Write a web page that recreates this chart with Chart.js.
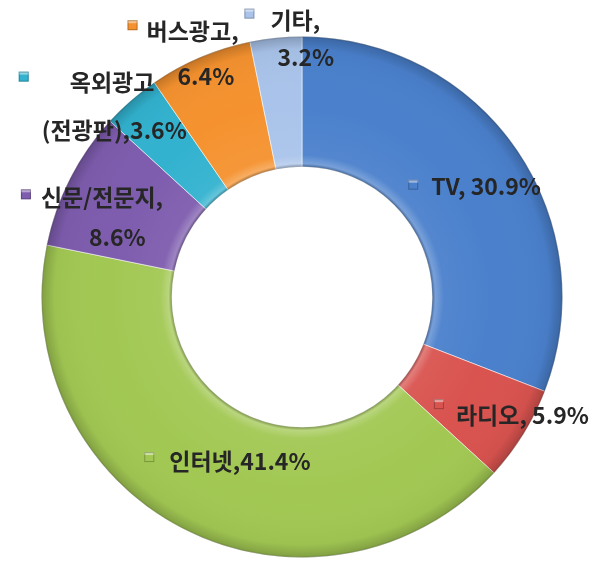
<!DOCTYPE html>
<html>
<head>
<meta charset="utf-8">
<script src="https://cdn.jsdelivr.net/npm/chart.js@4/dist/chart.umd.min.js"></script>
<style>
  html, body { margin: 0; padding: 0; background: #fff; }
  #wrap { width: 608px; height: 562px; }
</style>
</head>
<body>
<div id="wrap"><canvas id="myChart" width="608" height="562"></canvas></div>
<script>
// 매체별 비율 (%)
const categories = ['TV', '라디오', '인터넷', '신문/전문지', '옥외광고 (전광판)', '버스광고', '기타'];
const shares = [30.9, 5.9, 41.4, 8.6, 3.6, 6.4, 3.2];
const sliceColors = ['#4a80cc', '#d9534f', '#a2c853', '#7e5cae', '#32b2cf', '#f5922f', '#a9c3ea'];

// 라벨 배치 (조각 중심 기준 오프셋)
const labelLayout = [
  { sq: [-50, -2], lines: [['TV, 30.9%', -32, 0]] },
  { sq: [-29, 4], lines: [['라디오, 5.9%', -12, 15]] },
  { sq: [-64, -14], lines: [['인터넷,41.4%', -44, -10]] },
  { sq: [-102, -14], lines: [['신문/전문지,', -87, -11], ['8.6%', -39, 29]] },
  { sq: [-150, -73], lines: [['옥외광고', -104, -67], ['(전광판),3.6%', -132, -19]] },
  { sq: [-93, -92], lines: [['버스광고,', -79, -86], ['6.4%', -48, -41]] },
  { sq: [-33, -89], lines: [['기타,', -12, -82], ['3.2%', -5, -45]] }
];

const bevelPlugin = {
  id: 'bevel',
  afterDatasetsDraw(chart) {
    const meta = chart.getDatasetMeta(0);
    const arc = meta.data[0];
    if (!arc) return;
    const {x, y, innerRadius, outerRadius} = arc.getProps(['x', 'y', 'innerRadius', 'outerRadius'], true);
    const ctx = chart.ctx;
    ctx.save();
    const g = ctx.createRadialGradient(x, y, innerRadius, x, y, outerRadius);
    g.addColorStop(0, 'rgba(40,40,40,0.35)');
    g.addColorStop(0.025, 'rgba(255,255,255,0.25)');
    g.addColorStop(0.09, 'rgba(255,255,255,0.05)');
    g.addColorStop(0.5, 'rgba(255,255,255,0)');
    g.addColorStop(0.9, 'rgba(0,0,0,0.03)');
    g.addColorStop(0.985, 'rgba(0,0,0,0.18)');
    g.addColorStop(1, 'rgba(0,0,0,0.35)');
    ctx.beginPath();
    ctx.arc(x, y, outerRadius, 0, Math.PI * 2);
    ctx.arc(x, y, innerRadius, 0, Math.PI * 2, true);
    ctx.fillStyle = g;
    ctx.fill('evenodd');
    ctx.restore();
  }
};

const labelPlugin = {
  id: 'sliceLabels',
  afterDraw(chart) {
    const ctx = chart.ctx;
    const meta = chart.getDatasetMeta(0);
    ctx.save();
    ctx.font = 'bold 23px "Noto Sans CJK KR", "Noto Sans", sans-serif';
    ctx.textBaseline = 'middle';
    ctx.textAlign = 'left';
    meta.data.forEach((arc, i) => {
      const p = arc.getProps(['x', 'y', 'startAngle', 'endAngle', 'innerRadius', 'outerRadius'], true);
      const mid = (p.startAngle + p.endAngle) / 2;
      const r = (p.innerRadius + p.outerRadius) / 2;
      const ax = p.x + Math.cos(mid) * r;
      const ay = p.y + Math.sin(mid) * r;
      const lay = labelLayout[i];
      // 범례 표식
      const sx = ax + lay.sq[0] - 5, sy = ay + lay.sq[1] - 5;
      ctx.fillStyle = sliceColors[i];
      ctx.fillRect(sx, sy, 10, 10);
      ctx.fillStyle = 'rgba(255,255,255,0.45)';
      ctx.fillRect(sx, sy, 10, 3);
      ctx.strokeStyle = 'rgba(0,0,0,0.25)';
      ctx.lineWidth = 1;
      ctx.strokeRect(sx + 0.5, sy + 0.5, 9, 9);
      ctx.fillStyle = '#262626';
      lay.lines.forEach(([t, dx, dy]) => {
        ctx.fillText(t, ax + dx, ay + dy);
      });
    });
    ctx.restore();
  }
};

const ctx = document.getElementById('myChart').getContext('2d');
new Chart(ctx, {
  type: 'doughnut',
  data: {
    labels: categories,
    datasets: [{
      data: shares,
      backgroundColor: sliceColors,
      borderColor: 'rgba(255,255,255,0.55)',
      borderWidth: 1
    }]
  },
  options: {
    responsive: false,
    animation: false,
    cutout: '50%',
    layout: { padding: { left: 40, right: 44, top: 36, bottom: 4 } },
    plugins: {
      legend: { display: false },
      tooltip: { enabled: false }
    }
  },
  plugins: [bevelPlugin, labelPlugin]
});
</script>
</body>
</html>
